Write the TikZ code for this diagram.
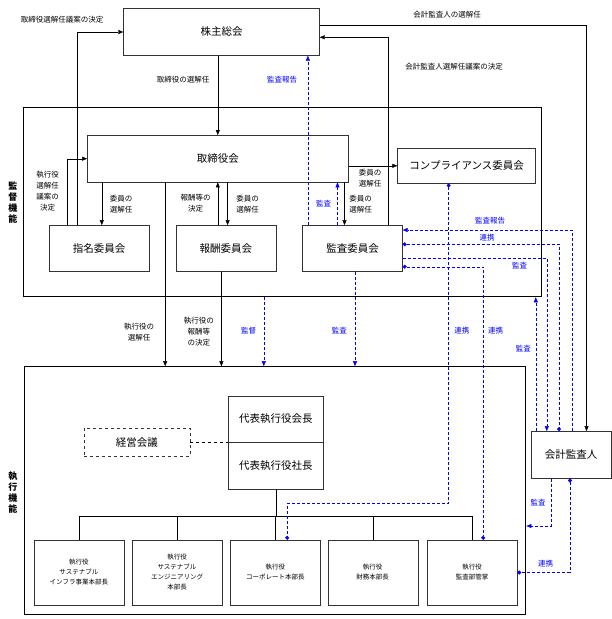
\documentclass[tikz,border=0pt]{standalone}
\usepackage{fontspec}
\setmainfont{Noto Sans CJK JP}
\usetikzlibrary{arrows.meta,positioning}
\tikzstyle{box}=[draw,black!80,rectangle,align=center,inner sep=1,text=black,font=\fontsize{10.5}{12}\selectfont]
\tikzstyle{exec}=[box,font=\fontsize{6.5}{10}\selectfont,minimum width=90,minimum height=65]
\tikzstyle{frame}=[draw,line width=1.2pt,rectangle]
\tikzstyle{lab}=[align=center,inner sep=0,font=\fontsize{7.5}{11}\selectfont]
\tikzstyle{blab}=[lab,text=blue]
\tikzstyle{arr}=[-{Triangle[length=5pt,width=4pt]},black]
\tikzstyle{barr}=[densely dashed,blue,-{Triangle[length=5pt,width=4pt]}]
\tikzstyle{blink}=[densely dashed,blue,{Circle[length=4pt]}-{Circle[length=4pt]}]

\begin{document}
\begin{tikzpicture}[x=1pt,y=-1pt]
	\useasboundingbox (0,0) rectangle (611,619);
	% frames
	\node[frame,minimum width=518,minimum height=189] (kantoku) at (282.5,202.2) {};
	\node[frame,minimum width=501,minimum height=248] (shikkou) at (275.3,490.8) {};
	\node[lab,font=\bfseries\fontsize{9}{11}\selectfont] (kantokulab) at (13,203) {監\\督\\機\\能};
	\node[lab,font=\bfseries\fontsize{9}{11}\selectfont] (shikkoulab) at (13,493) {執\\行\\機\\能};

	% supervisory side
	\node[box,minimum width=196,minimum height=47] (soukai) at (221.5,32) {株主総会};
	\node[box,minimum width=261,minimum height=47] (torishimari) at (217.8,158.7) {取締役会};
	\node[box,minimum width=138,minimum height=35] (compla) at (466.6,165.8) {コンプライアンス委員会};
	\node[box,minimum width=100,minimum height=46] (shimei) at (99,248.3) {指名委員会};
	\node[box,minimum width=100,minimum height=46] (houshu) at (225.8,248.3) {報酬委員会};
	\node[box,minimum width=100,minimum height=46] (kansa) at (352.5,248.3) {監査委員会};
	\node[box,minimum width=80,minimum height=47] (kaikei) at (571,454.8) {会計監査人};

	% executive side
	\node[box,minimum width=95,minimum height=46.6] (kaichou) at (275.8,419) {代表執行役会長};
	\node[box,minimum width=95,minimum height=46.6] (shachou) at (275.8,465.6) {代表執行役社長};
	\node[box,dashed,minimum width=106,minimum height=28] (keiei) at (136.8,442.2) {経営会議};
	\node[exec] (b1) at (78.9,572.5) {執行役\\サステナブル\\インフラ事業本部長};
	\node[exec] (b2) at (177,572.5) {執行役\\サステナブル\\エンジニアリング\\本部長};
	\node[exec] (b3) at (275.3,572.5) {執行役\\コーポレート本部長};
	\node[exec] (b4) at (372.7,572.5) {執行役\\財務本部長};
	\node[exec] (b5) at (472,572.5) {執行役\\監査部管掌};

	% helper coordinates
	\coordinate (c1) at (76.8,0);
	\coordinate (c2) at (387.8,0);
	\coordinate (c3) at (586.5,0);
	\coordinate (c4) at (67.4,0);
	\coordinate (t) at (0,516.3);

	% black connectors
	\draw[arr] (shimei.north -| c1) |- (soukai.west);
	\draw[arr] (kansa.north -| c2) |- ([yshift=-5.3pt]soukai.east);
	\draw[arr] ([yshift=7pt]soukai.east) -| (kaikei.north -| c3);
	\draw[arr] (soukai.south -| torishimari.north) -- (torishimari.north);
	\draw[arr] (shimei.north -| c4) |- (torishimari.west);
	\draw[arr] ([xshift=-116pt]torishimari.south) -- ([xshift=-116pt]torishimari.south |- shimei.north);
	\draw[arr] ([xshift=-8pt]houshu.north) -- ([xshift=-8pt]houshu.north |- torishimari.south);
	\draw[arr] ([xshift=1.8pt]houshu.north |- torishimari.south) -- ([xshift=1.8pt]houshu.north);
	\draw[arr] ([xshift=-8pt]kansa.north |- torishimari.south) -- ([xshift=-8pt]kansa.north);
	\draw[arr] (torishimari.east |- compla.west) -- (compla.west);
	\draw[arr] ([xshift=-52.6pt]torishimari.south) -- ([xshift=-52.6pt]torishimari.south |- shikkou.north);
	\draw[arr] ([xshift=-4.4pt]houshu.south) -- ([xshift=-4.4pt]houshu.south |- shikkou.north);
	\draw[dashed] (keiei.east) -- (keiei.east -| shachou.west);
	\draw (shachou.south) -- (shachou.south |- t);
	\draw (b1.north |- t) -- (b5.north |- t);
	\foreach \i in {1,...,5}
		\draw (b\i.north |- t) -- (b\i.north);

	% blue connectors
	\draw[barr] ([xshift=-44.6pt]kansa.north) -- ([xshift=-44.6pt]kansa.north |- soukai.south);
	\draw[barr] ([xshift=-15pt]kansa.north) -- ([xshift=-15pt]kansa.north |- torishimari.south);
	\draw[barr] (kaikei.north -| 572,0) |- ([yshift=18.3pt]kansa.east);
	\draw[blink] ([yshift=4pt]kansa.east) -| (kaikei.north -| 559,0);
	\draw[barr] ([yshift=-10pt]kansa.east) -| (kaikei.north -| 546.8,0);
	\draw[blink] ([yshift=-18.4pt]kansa.east) -| (b5.north -| 483.2,0);
	\draw[blink] (compla.south -| 448.6,0) |- (287.2,503.3) -- (b3.north -| 287.2,0);
	\draw[barr] (kaikei.north -| 535.8,0) -- (kantoku.south -| 535.8,0);
	\draw[barr] (kantoku.south -| 263.8,0) -- (shikkou.north -| 263.8,0);
	\draw[barr] (kansa.south -| 355,0) -- (shikkou.north -| 355,0);
	\draw[barr] (kaikei.south -| 550.7,0) |- (shikkou.east |- 0,526);
	\draw[blink] (kaikei.south -| 570,0) |- (b5.east);

	% labels
	\node[lab] (l1) at (62,20) {取締役選解任議案の決定};
	\node[lab] (l2) at (447,15) {会計監査人の選解任};
	\node[lab] (l3) at (454,67) {会計監査人選解任議案の決定};
	\node[lab] (l4) at (183,80) {取締役の選解任};
	\node[blab] (l5) at (282,80) {監査報告};
	\node[lab] (l6) at (47.5,191) {執行役\\選解任\\議案の\\決定};
	\node[lab] (l7) at (121,204) {委員の\\選解任};
	\node[lab] (l8) at (195.6,203) {報酬等の\\決定};
	\node[lab] (l9) at (247.5,204) {委員の\\選解任};
	\node[blab] (l10) at (323.5,204) {監査};
	\node[lab] (l11) at (360.5,204) {委員の\\選解任};
	\node[lab] (l12) at (370,178) {委員の\\選解任};
	\node[blab] (l13) at (490,221) {監査報告};
	\node[blab] (l14) at (487,238) {連携};
	\node[blab] (l15) at (519.5,266) {監査};
	\node[lab] (l16) at (139,332) {執行役の\\選解任};
	\node[lab] (l17) at (198.8,332) {執行役の\\報酬等\\の決定};
	\node[blab] (l18) at (248.6,331) {監督};
	\node[blab] (l19) at (339.4,331) {監査};
	\node[blab] (l20) at (461.8,331) {連携};
	\node[blab] (l21) at (495.7,331) {連携};
	\node[blab] (l22) at (523.4,349) {監査};
	\node[blab] (l23) at (538.2,503) {監査};
	\node[blab] (l24) at (545.6,564) {連携};
\end{tikzpicture}
\end{document}
